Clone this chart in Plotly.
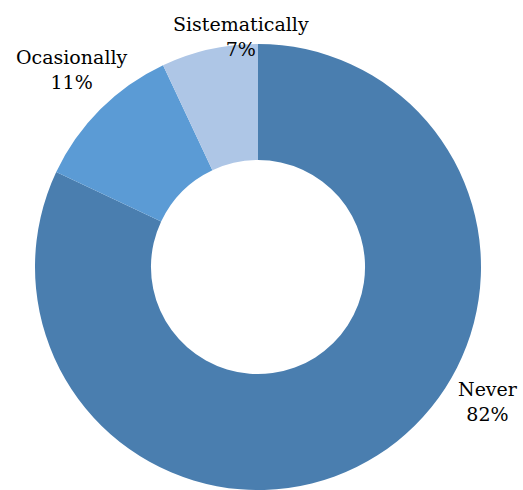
import plotly.graph_objects as go

labels = ["Never", "Ocasionally", "Sistematically"]
values = [82, 11, 7]
colors = ["#4A7EAF", "#5B9BD5", "#AEC6E6"]

W, H = 523, 490
fig = go.Figure(go.Pie(
    labels=labels, values=values, hole=0.48, sort=False,
    direction="clockwise", rotation=0,
    marker=dict(colors=colors, line=dict(width=0)),
    textinfo="none", hoverinfo="label+percent",
    domain=dict(x=[35 / W, 481 / W], y=[0, 1 - 44 / H]),
    showlegend=False,
))

label_pos = {"Never": (488, 401), "Ocasionally": (72, 69), "Sistematically": (241, 36)}
for lab, v in zip(labels, values):
    px, py = label_pos[lab]
    fig.add_annotation(
        x=px / W, y=1 - py / H, xref="paper", yref="paper",
        text=f"{lab}<br>{round(100 * v / sum(values))}%", showarrow=False,
        font=dict(family="DejaVu Serif", size=19, color="#000000"),
        xanchor="center", yanchor="middle",
    )

fig.update_layout(
    width=W, height=H, margin=dict(l=0, r=0, t=0, b=0),
    paper_bgcolor="white", plot_bgcolor="white",
)
fig.write_html("out.html")
